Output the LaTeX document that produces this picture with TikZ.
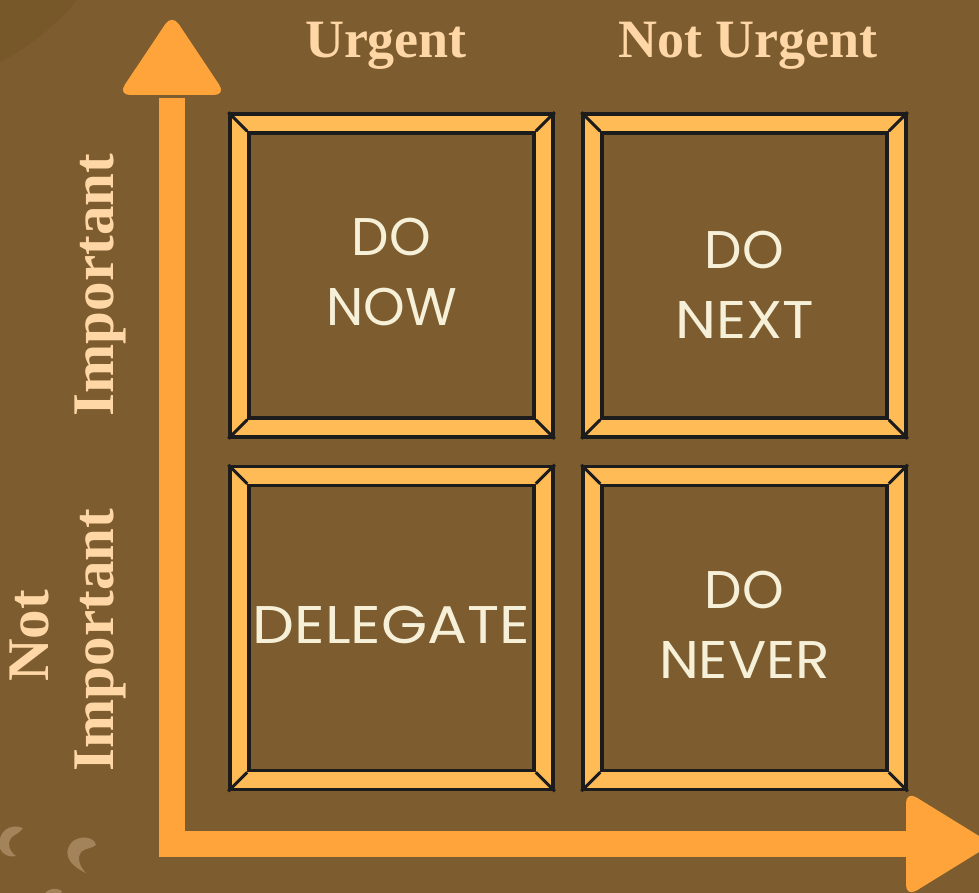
\documentclass[tikz,border=0pt]{standalone}
\usepackage{fontspec}
\setmainfont{Liberation Serif}
\newfontfamily\boxfont{Poppins}
\usetikzlibrary{calc}
\definecolor{bg}{HTML}{7D5D2F}
\definecolor{bgdark}{HTML}{775829}
\definecolor{arrowc}{HTML}{FFA43A}
\definecolor{framec}{HTML}{FFBB55}
\definecolor{labelc}{HTML}{FFD7A6}
\definecolor{boxtext}{HTML}{F7F0D8}
\definecolor{moon}{HTML}{A3845A}
\definecolor{edge}{HTML}{1C1C1C}
\tikzset{
  outerbox/.style={draw=edge, line width=3.5pt, fill=framec, minimum width=323pt, minimum height=323pt, inner sep=0pt},
  innerbox/.style={draw=edge, line width=3.5pt, fill=bg, minimum width=285pt, minimum height=285pt, inner sep=0pt},
  boxlabel/.style={align=center, font=\boxfont\fontsize{53}{70}\selectfont, text=boxtext, inner sep=0pt},
  diag/.style={draw=edge, line width=3pt},
  toplabel/.style={font=\bfseries\fontsize{54}{60}\selectfont, text=labelc, anchor=base},
  sidelabel/.style={font=\bfseries\fontsize{59}{65}\selectfont, text=labelc, anchor=base, rotate=90},
}
\newcommand{\quadbox}[5]{%
  \node[outerbox] (#1o) at (#2,#3) {};
  \node[innerbox] (#1) at (#2,#3) {};
  \draw[diag] (#1o.north west) -- (#1.north west);
  \draw[diag] (#1o.north east) -- (#1.north east);
  \draw[diag] (#1o.south west) -- (#1.south west);
  \draw[diag] (#1o.south east) -- (#1.south east);
  \node[boxlabel] (#1t) at ($(#1.center)+(0,#5)$) {#4};
}
\newcommand{\wide}[2]{\scalebox{#1}[1]{#2}}
\begin{document}
\begin{tikzpicture}[x=1pt,y=-1pt]
\fill[bg] (0,0) rectangle (979,893);
\useasboundingbox (0,0) rectangle (979,893);
% darker arc top-left
\fill[bgdark] (-120,-165) circle (257);
% moons
\fill[moon] (23,828) .. controls (10,823) and (-1,831) .. (-1,845) .. controls (0,853) and (8,858) .. (16,856) .. controls (9,851) and (7,843) .. (11,838) .. controls (15,834) and (20,833) .. (23,828) -- cycle;
\fill[moon] (96,845) .. controls (94,837) and (82,835) .. (73,841) .. controls (64,849) and (64,863) .. (86,873) .. controls (79,866) and (77,857) .. (81,852) .. controls (85,848) and (91,849) .. (96,845) -- cycle;
\fill[moon] (62,891) .. controls (55,887) and (48,888) .. (44,895) -- (60,895) -- cycle;
% axes
\coordinate (top) at (172,98);
\coordinate (corner) at (172,844);
\coordinate (right) at (912,844);
\draw[arrowc, line width=26pt, line join=miter] (top) -- (corner) -- (right);
\fill[arrowc, rounded corners=12pt] (118,95) -- (172,14) -- (226,95) -- cycle;
\fill[arrowc, rounded corners=12pt] (906,791) -- (992,844) -- (906,897) -- cycle;
% quadrants
\quadbox{q1}{391.5}{275.5}{DO\\NOW}{-3}
\quadbox{q2}{744.5}{275.5}{DO\\\wide{1.1}{NEXT}}{9}
\quadbox{q3}{391.5}{628}{\wide{1.12}{DELEGATE}}{-3}
\quadbox{q4}{744.5}{628}{DO\\\wide{1.07}{NEVER}}{-3}
% labels
\node[toplabel] (urg) at (386,58) {Urgent};
\node[toplabel] (nurg) at (748,58) {Not Urgent};
\node[sidelabel] (imp) at (113,285) {Important};
\node[sidelabel] (nimp1) at (48,636) {Not};
\node[sidelabel] (nimp2) at (113,640) {Important};
\end{tikzpicture}
\end{document}
